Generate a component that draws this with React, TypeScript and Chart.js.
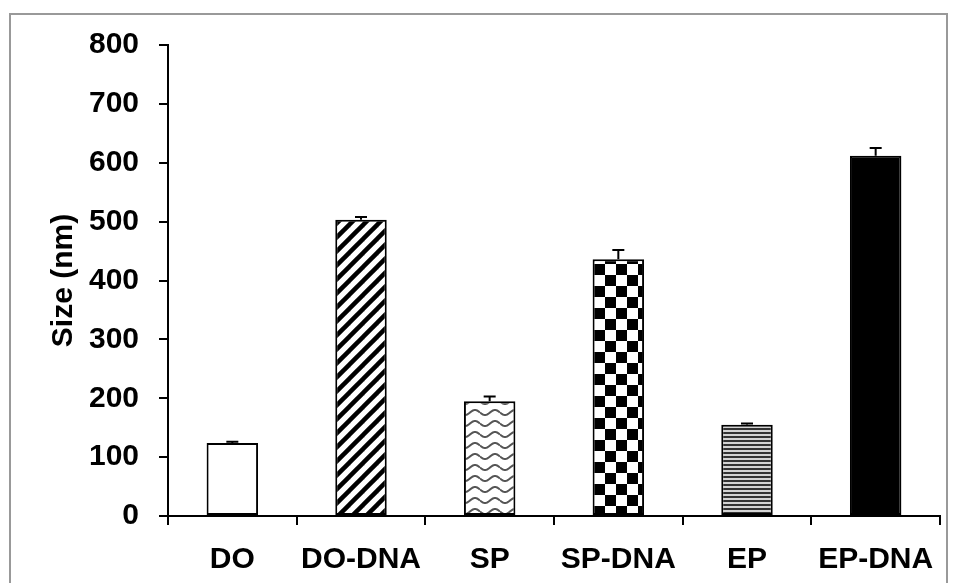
import React, { useEffect, useRef } from 'react';
import { Chart, registerables } from 'chart.js';

Chart.register(...registerables);

const categories = ['DO', 'DO-DNA', 'SP', 'SP-DNA', 'EP', 'EP-DNA'];
const sizes = [124, 503, 195, 436, 155, 612];
const errors = [2, 5, 8, 16, 2, 13];
const yMin = 0;
const yMax = 800;
const yStep = 100;
const yTitle = 'Size (nm)';

const FONT = '"Liberation Sans", Arial, Helvetica, sans-serif';

function makeTile(w: number, h: number, draw: (c: CanvasRenderingContext2D) => void) {
  const cv = document.createElement('canvas');
  cv.width = w;
  cv.height = h;
  const c = cv.getContext('2d')!;
  c.fillStyle = '#fff';
  c.fillRect(0, 0, w, h);
  draw(c);
  return cv;
}

function buildFills(ctx: CanvasRenderingContext2D): (string | CanvasPattern)[] {
  const diag = makeTile(14, 14, (c) => {
    c.strokeStyle = '#000';
    c.lineWidth = 4.5;
    for (const k of [-14, 0, 14]) {
      c.beginPath();
      c.moveTo(k - 2, 16);
      c.lineTo(k + 16, -2);
      c.stroke();
    }
  });
  const wave = makeTile(20, 11, (c) => {
    c.strokeStyle = '#555';
    c.lineWidth = 2;
    for (const off of [-11, 0, 11]) {
      c.beginPath();
      for (let x = 0; x <= 20; x += 0.5) {
        const y = 5.5 + off + 2.5 * Math.sin((2 * Math.PI * x) / 20);
        if (x === 0) c.moveTo(x, y);
        else c.lineTo(x, y);
      }
      c.stroke();
    }
  });
  const check = makeTile(22, 22, (c) => {
    c.fillStyle = '#000';
    c.fillRect(0, 0, 11, 11);
    c.fillRect(11, 11, 11, 11);
  });
  const hstripe = makeTile(4, 4, (c) => {
    c.fillStyle = '#d4d4d4';
    c.fillRect(0, 0, 4, 4);
    c.fillStyle = '#333';
    c.fillRect(0, 0, 4, 2);
  });
  return [
    '#ffffff',
    ctx.createPattern(diag, 'repeat')!,
    ctx.createPattern(wave, 'repeat')!,
    ctx.createPattern(check, 'repeat')!,
    ctx.createPattern(hstripe, 'repeat')!,
    '#000000',
  ];
}

const framePlugin = {
  id: 'frame',
  beforeDraw(chart: any) {
    const c = chart.ctx as CanvasRenderingContext2D;
    c.save();
    c.fillStyle = '#fff';
    c.fillRect(0, 0, chart.width, chart.height);
    c.strokeStyle = '#999';
    c.lineWidth = 2;
    c.beginPath();
    c.moveTo(10, chart.height + 5);
    c.lineTo(10, 14);
    c.lineTo(947, 14);
    c.lineTo(947, chart.height + 5);
    c.stroke();
    c.restore();
  },
};

const errorBarPlugin = {
  id: 'errbars',
  afterDatasetsDraw(chart: any) {
    const c = chart.ctx as CanvasRenderingContext2D;
    const meta = chart.getDatasetMeta(0);
    const yScale = chart.scales.y;
    c.save();
    c.strokeStyle = '#000';
    c.lineWidth = 2;
    meta.data.forEach((bar: any, i: number) => {
      const top = yScale.getPixelForValue(sizes[i] + errors[i]);
      const base = bar.y;
      c.beginPath();
      c.moveTo(bar.x, base);
      c.lineTo(bar.x, top);
      c.moveTo(bar.x - 6, top);
      c.lineTo(bar.x + 6, top);
      c.stroke();
    });
    c.restore();
  },
};

export default function App() {
  const ref = useRef<HTMLCanvasElement | null>(null);

  useEffect(() => {
    document.body.style.margin = '0';
    const canvas = ref.current!;
    const ctx = canvas.getContext('2d')!;
    const fills = buildFills(ctx);
    const font = { family: FONT, size: 30, weight: 'bold' as const };
    const chart = new Chart(canvas, {
      type: 'bar',
      data: {
        labels: categories,
        datasets: [
          {
            data: sizes,
            backgroundColor: fills as any,
            borderColor: '#000',
            borderWidth: 2,
            borderSkipped: false,
            barPercentage: 0.4,
            categoryPercentage: 1,
          },
        ],
      },
      options: {
        animation: false,
        responsive: false,
        devicePixelRatio: 1,
        layout: { padding: { left: 44, right: 13, top: 45, bottom: 0 } },
        plugins: {
          legend: { display: false },
          tooltip: { enabled: false },
        },
        scales: {
          x: {
            offset: true,
            grid: {
              display: true,
              drawOnChartArea: false,
              drawTicks: true,
              tickLength: 9,
              color: '#000',
              lineWidth: 2,
              offset: true,
            },
            border: { display: true, color: '#000', width: 2 },
            ticks: { color: '#000', font, padding: 17, maxRotation: 0, autoSkip: false },
            afterFit: (s: any) => {
              s.height = 67;
            },
          },
          y: {
            min: yMin,
            max: yMax,
            ticks: { stepSize: yStep, color: '#000', font, padding: 20 },
            grid: {
              display: true,
              drawOnChartArea: false,
              drawTicks: true,
              tickLength: 9,
              color: '#000',
              lineWidth: 2,
            },
            border: { display: true, color: '#000', width: 2 },
            title: {
              display: true,
              text: yTitle,
              color: '#000',
              font,
              padding: { top: 2, bottom: 2 },
            },
            afterFit: (s: any) => {
              s.width = 124;
            },
          },
        },
      },
      plugins: [framePlugin, errorBarPlugin],
    });
    return () => chart.destroy();
  }, []);

  return (
    <div style={{ position: 'absolute', left: 0, top: 0, width: 953, height: 583 }}>
      <canvas ref={ref} width={953} height={583} style={{ display: 'block', width: 953, height: 583 }} />
    </div>
  );
}
